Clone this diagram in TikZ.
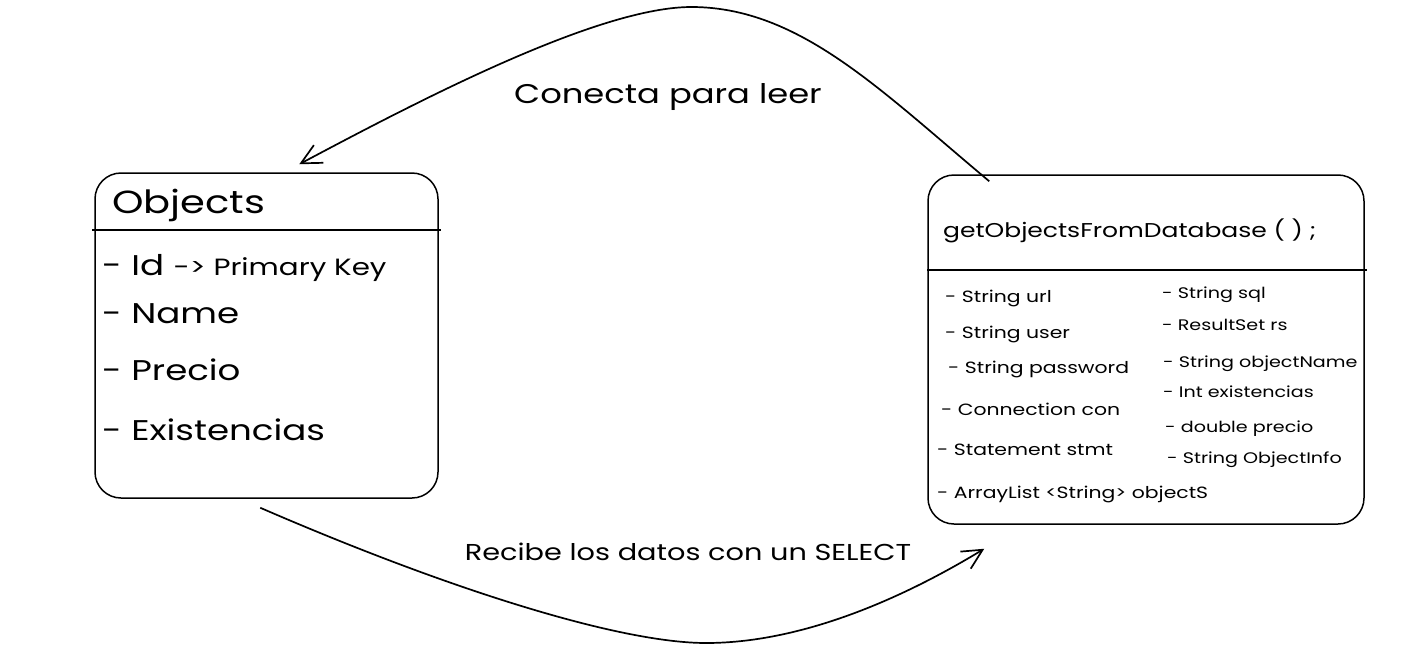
\documentclass[tikz,border=0pt]{standalone}
\usepackage{fontspec}
\setmainfont[FakeStretch=1.25]{Poppins}
\usetikzlibrary{arrows.meta}
\begin{document}
\begin{tikzpicture}[x=1pt,y=-1pt,
  box/.style={draw, line width=1.5pt, rounded corners=26pt, inner sep=0pt},
  divider/.style={line width=1.6pt},
  lbl/.style={anchor=base west, inner sep=0pt, text=black},
  titlefont/.style={font=\fontsize{32}{38}\selectfont},
  attrfont/.style={font=\fontsize{28.5}{34}\selectfont},
  dbtitle/.style={font=\fontsize{20}{24}\selectfont},
  dbattr/.style={font=\fontsize{16.3}{19}\selectfont},
  dbattrr/.style={font=\fontsize{15.3}{18}\selectfont},
  edgelbl/.style={anchor=base, inner sep=0pt},
  conn/.style={line width=1.7pt, -{Straight Barb[length=20pt,width=20pt,line width=1.7pt]}},
]
\useasboundingbox (0,0) rectangle (1418,645);
\fill[white] (0,0) rectangle (1418,645);

% boxes
\node[box, minimum width=343pt, minimum height=325pt] (objects) at (266.5,335.5) {};
\node[box, minimum width=436pt, minimum height=349pt] (db) at (1146,349.5) {};
\draw[divider] ([xshift=-2pt]objects.west |- 0,230) -- ([xshift=2pt]objects.east |- 0,230);
\draw[divider] (db.west |- 0,270) -- ([xshift=2pt]db.east |- 0,270);

% Objects box texts
\node[lbl, titlefont] (objtitle) at (112,213) {Objects};
\node[lbl, attrfont] (attrid) at (102,275) {- Id \fontsize{23.5}{28}\selectfont -> Primary Key};
\node[lbl, attrfont] (attrname) at (102,323) {- Name};
\node[lbl, attrfont] (attrprecio) at (102,380) {- Precio};
\node[lbl, attrfont] (attrexist) at (102,440) {- Existencias};

% Database box texts
\node[lbl, dbtitle] (dbtitle) at (943,237) {getObjectsFromDatabase ( ) ;};
\node[lbl, dbattr] (l1) at (945,302) {- String url};
\node[lbl, dbattr] (l2) at (945,338) {- String user};
\node[lbl, dbattr] (l3) at (948,373) {- String password};
\node[lbl, dbattr] (l4) at (941,415) {- Connection con};
\node[lbl, dbattr] (l5) at (937,455) {- Statement stmt};
\node[lbl, dbattr] (l6) at (937,498) {- ArrayList <String> objectS};
\node[lbl, dbattrr] (r1) at (1162,298) {- String sql};
\node[lbl, dbattrr] (r2) at (1162,330) {- ResultSet rs};
\node[lbl, dbattrr] (r3) at (1163,367) {- String objectName};
\node[lbl, dbattrr] (r4) at (1163,397) {- Int existencias};
\node[lbl, dbattrr] (r5) at (1165,432) {- double precio};
\node[lbl, dbattrr] (r6) at (1167,463) {- String ObjectInfo};

% connectors
\draw[conn] ([xshift=62pt,yshift=-7pt]db.north west)
  .. controls (880,90) and (800,8) .. (693,7)
  .. controls (600,6) and (420,100) .. ([xshift=205pt,yshift=8pt]objects.north west);
\draw[conn] ([xshift=166pt,yshift=-9pt]objects.south west)
  .. controls (450,590) and (620,643) .. (706,643)
  .. controls (800,643) and (900,600) .. ([xshift=57pt,yshift=-24pt]db.south west);

% connector labels
\node[edgelbl, font=\fontsize{27}{32}\selectfont] (lblread) at (668,103) {Conecta para leer};
\node[edgelbl, font=\fontsize{23}{28}\selectfont] (lblselect) at (688,560) {Recibe los datos con un SELECT};
\end{tikzpicture}
\end{document}
